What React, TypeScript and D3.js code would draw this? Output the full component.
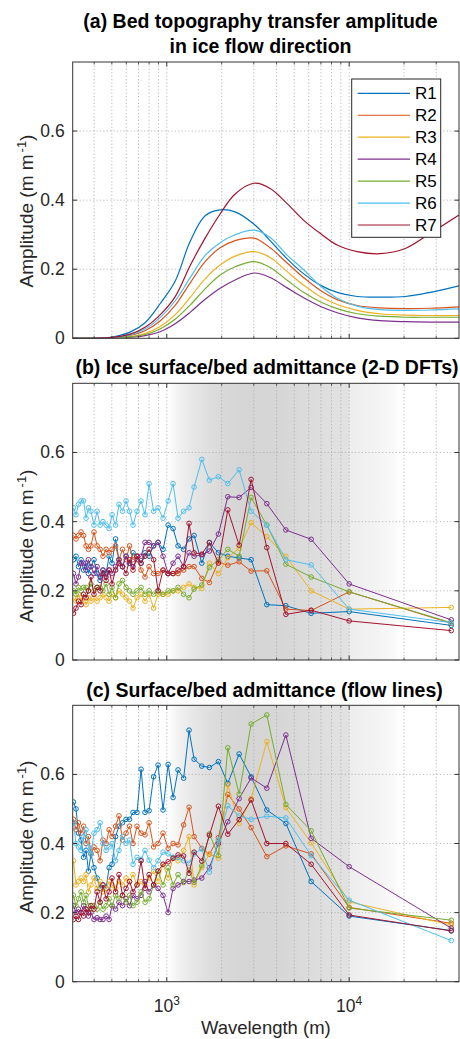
import React from "react";
import * as d3 from "d3";

const WIDTH = 460;
const HEIGHT = 1039;
const PLOT_LEFT = 72.7;
const PLOT_RIGHT = 459;
const FONT = "'Liberation Sans', Arial, Helvetica, sans-serif";

const SERIES_NAMES = ["R1", "R2", "R3", "R4", "R5", "R6", "R7"];
const SERIES_COLORS = ["#0072BD", "#D95319", "#EDB120", "#7E2F8E", "#77AC30", "#4DBEEE", "#A2142F"];

// (a) modelled bed-to-surface transfer amplitude, wavelength in metres
const WAVELENGTH_A = [305, 489, 629, 760, 919, 1111, 1342, 1623, 1961, 2370, 3012, 3687, 4570, 5593, 6932, 8596, 11066, 14791, 20290, 27820, 40000];
const A_R1 = [0, 0.003, 0.018, 0.045, 0.1, 0.165, 0.28, 0.355, 0.372, 0.366, 0.33, 0.283, 0.23, 0.188, 0.154, 0.133, 0.121, 0.119, 0.121, 0.133, 0.152];
const A_R2 = [0, 0.002, 0.008, 0.022, 0.05, 0.095, 0.16, 0.222, 0.262, 0.283, 0.29, 0.262, 0.218, 0.177, 0.139, 0.112, 0.095, 0.088, 0.086, 0.087, 0.091];
const A_R3 = [0, 0.001, 0.005, 0.014, 0.034, 0.068, 0.118, 0.172, 0.212, 0.238, 0.251, 0.234, 0.193, 0.155, 0.121, 0.098, 0.081, 0.071, 0.067, 0.066, 0.066];
const A_R4 = [0, 0.001, 0.003, 0.008, 0.019, 0.042, 0.075, 0.113, 0.145, 0.169, 0.189, 0.176, 0.146, 0.118, 0.093, 0.074, 0.059, 0.051, 0.048, 0.047, 0.047];
const A_R5 = [0, 0.001, 0.004, 0.011, 0.027, 0.055, 0.096, 0.143, 0.183, 0.207, 0.222, 0.205, 0.168, 0.134, 0.106, 0.086, 0.071, 0.064, 0.061, 0.061, 0.061];
const A_R6 = [0, 0.002, 0.01, 0.027, 0.06, 0.108, 0.175, 0.24, 0.277, 0.3, 0.313, 0.292, 0.241, 0.2, 0.152, 0.116, 0.093, 0.083, 0.081, 0.082, 0.085];
const A_R7 = [0, 0.002, 0.012, 0.032, 0.068, 0.12, 0.21, 0.29, 0.36, 0.418, 0.449, 0.434, 0.39, 0.343, 0.304, 0.27, 0.251, 0.245, 0.26, 0.304, 0.357];
const TRANSFER = [A_R1, A_R2, A_R3, A_R4, A_R5, A_R6, A_R7];

// (b), (c) observed admittance, wavelength in metres
const WAVELENGTH_BC = [308, 318, 328, 339, 350, 361, 372, 384, 399, 415, 431, 447, 465, 483, 501, 524, 547, 572, 598, 625, 653, 687, 723, 760, 800, 847, 896, 954, 1017, 1083, 1153, 1237, 1325, 1412, 1556, 1713, 1919, 2161, 2493, 2900, 3536, 4496, 6188, 10000, 36270];

const B_R1 = [0.29, 0.30, 0.27, 0.29, 0.26, 0.28, 0.25, 0.27, 0.29, 0.25, 0.23, 0.26, 0.25, 0.30, 0.28, 0.35, 0.29, 0.27, 0.30, 0.28, 0.31, 0.30, 0.28, 0.31, 0.30, 0.33, 0.34, 0.32, 0.39, 0.38, 0.33, 0.32, 0.35, 0.36, 0.28, 0.34, 0.31, 0.30, 0.295, 0.29, 0.16, 0.157, 0.135, 0.14, 0.10];
const B_R2 = [0.36, 0.35, 0.36, 0.37, 0.36, 0.33, 0.32, 0.33, 0.37, 0.33, 0.32, 0.30, 0.32, 0.31, 0.32, 0.33, 0.29, 0.32, 0.29, 0.33, 0.29, 0.30, 0.26, 0.24, 0.27, 0.25, 0.25, 0.26, 0.25, 0.25, 0.25, 0.26, 0.27, 0.27, 0.236, 0.224, 0.284, 0.274, 0.284, 0.257, 0.258, 0.147, 0.143, 0.197, 0.106];
const B_R3 = [0.18, 0.17, 0.19, 0.17, 0.18, 0.16, 0.18, 0.17, 0.18, 0.17, 0.18, 0.19, 0.18, 0.17, 0.19, 0.18, 0.20, 0.19, 0.18, 0.17, 0.15, 0.18, 0.19, 0.17, 0.19, 0.15, 0.19, 0.19, 0.19, 0.20, 0.20, 0.21, 0.22, 0.21, 0.207, 0.28, 0.25, 0.296, 0.323, 0.397, 0.357, 0.30, 0.20, 0.147, 0.152];
const B_R4 = [0.25, 0.22, 0.24, 0.28, 0.28, 0.26, 0.29, 0.27, 0.25, 0.27, 0.24, 0.26, 0.24, 0.26, 0.25, 0.27, 0.29, 0.27, 0.30, 0.28, 0.27, 0.29, 0.30, 0.34, 0.34, 0.33, 0.34, 0.30, 0.25, 0.28, 0.30, 0.27, 0.31, 0.30, 0.304, 0.315, 0.364, 0.472, 0.470, 0.499, 0.452, 0.376, 0.349, 0.22, 0.116];
const B_R5 = [0.20, 0.19, 0.21, 0.20, 0.21, 0.21, 0.20, 0.22, 0.20, 0.21, 0.21, 0.20, 0.22, 0.19, 0.21, 0.18, 0.22, 0.23, 0.21, 0.20, 0.19, 0.20, 0.21, 0.19, 0.20, 0.19, 0.20, 0.19, 0.20, 0.20, 0.21, 0.19, 0.18, 0.205, 0.217, 0.268, 0.29, 0.32, 0.30, 0.47, 0.39, 0.277, 0.24, 0.197, 0.108];
const B_R6 = [0.44, 0.42, 0.45, 0.46, 0.46, 0.41, 0.44, 0.43, 0.39, 0.43, 0.39, 0.40, 0.39, 0.38, 0.42, 0.39, 0.45, 0.43, 0.46, 0.43, 0.39, 0.43, 0.46, 0.42, 0.51, 0.43, 0.44, 0.41, 0.46, 0.51, 0.41, 0.43, 0.44, 0.50, 0.58, 0.52, 0.53, 0.51, 0.55, 0.43, 0.39, 0.29, 0.275, 0.147, 0.108];
const B_R7 = [0.135, 0.15, 0.17, 0.16, 0.19, 0.18, 0.20, 0.24, 0.19, 0.21, 0.20, 0.25, 0.23, 0.26, 0.22, 0.26, 0.28, 0.27, 0.25, 0.29, 0.26, 0.30, 0.28, 0.30, 0.32, 0.29, 0.20, 0.26, 0.25, 0.25, 0.26, 0.27, 0.395, 0.31, 0.306, 0.339, 0.28, 0.434, 0.332, 0.522, 0.325, 0.132, 0.144, 0.113, 0.085];
const DFT_ADMITTANCE = [B_R1, B_R2, B_R3, B_R4, B_R5, B_R6, B_R7];

const C_R1 = [0.52, 0.50, 0.43, 0.41, 0.36, 0.38, 0.32, 0.37, 0.33, 0.30, 0.27, 0.28, 0.27, 0.33, 0.34, 0.42, 0.45, 0.46, 0.47, 0.47, 0.49, 0.49, 0.615, 0.49, 0.495, 0.593, 0.627, 0.497, 0.629, 0.533, 0.613, 0.589, 0.728, 0.644, 0.624, 0.62, 0.637, 0.574, 0.659, 0.593, 0.497, 0.458, 0.29, 0.19, 0.148];
const C_R2 = [0.47, 0.44, 0.46, 0.43, 0.45, 0.40, 0.42, 0.37, 0.39, 0.38, 0.35, 0.41, 0.40, 0.44, 0.42, 0.45, 0.48, 0.41, 0.43, 0.45, 0.40, 0.45, 0.43, 0.425, 0.46, 0.39, 0.40, 0.43, 0.386, 0.40, 0.396, 0.454, 0.505, 0.42, 0.386, 0.369, 0.417, 0.542, 0.50, 0.446, 0.362, 0.393, 0.37, 0.215, 0.169];
const C_R3 = [0.35, 0.28, 0.29, 0.30, 0.29, 0.31, 0.26, 0.28, 0.30, 0.27, 0.29, 0.26, 0.27, 0.29, 0.28, 0.27, 0.29, 0.28, 0.30, 0.29, 0.31, 0.28, 0.29, 0.28, 0.30, 0.32, 0.29, 0.34, 0.30, 0.36, 0.35, 0.38, 0.42, 0.28, 0.33, 0.37, 0.357, 0.57, 0.458, 0.53, 0.695, 0.504, 0.402, 0.231, 0.164];
const C_R4 = [0.22, 0.20, 0.21, 0.20, 0.22, 0.21, 0.19, 0.20, 0.18, 0.185, 0.18, 0.18, 0.19, 0.18, 0.22, 0.21, 0.23, 0.22, 0.24, 0.22, 0.25, 0.24, 0.25, 0.29, 0.26, 0.28, 0.27, 0.25, 0.20, 0.27, 0.28, 0.29, 0.29, 0.294, 0.30, 0.33, 0.40, 0.463, 0.53, 0.59, 0.56, 0.714, 0.415, 0.333, 0.155];
const C_R5 = [0.25, 0.22, 0.24, 0.26, 0.23, 0.25, 0.22, 0.21, 0.22, 0.21, 0.23, 0.21, 0.22, 0.24, 0.22, 0.25, 0.24, 0.25, 0.23, 0.25, 0.22, 0.23, 0.26, 0.23, 0.24, 0.28, 0.32, 0.28, 0.33, 0.28, 0.31, 0.287, 0.323, 0.287, 0.336, 0.428, 0.365, 0.677, 0.543, 0.746, 0.772, 0.513, 0.437, 0.213, 0.178];
const C_R6 = [0.46, 0.40, 0.39, 0.38, 0.42, 0.44, 0.39, 0.37, 0.43, 0.44, 0.46, 0.40, 0.38, 0.39, 0.40, 0.35, 0.38, 0.42, 0.40, 0.41, 0.34, 0.36, 0.354, 0.38, 0.352, 0.33, 0.35, 0.375, 0.37, 0.36, 0.36, 0.35, 0.343, 0.37, 0.384, 0.317, 0.41, 0.509, 0.48, 0.47, 0.479, 0.474, 0.365, 0.236, 0.119];
const C_R7 = [0.18, 0.19, 0.18, 0.20, 0.19, 0.21, 0.20, 0.22, 0.21, 0.26, 0.23, 0.28, 0.24, 0.26, 0.30, 0.26, 0.31, 0.25, 0.27, 0.29, 0.26, 0.28, 0.35, 0.27, 0.31, 0.28, 0.32, 0.34, 0.347, 0.357, 0.367, 0.364, 0.314, 0.375, 0.349, 0.424, 0.508, 0.427, 0.469, 0.526, 0.40, 0.40, 0.34, 0.193, 0.147];
const FLOWLINE_ADMITTANCE = [C_R1, C_R2, C_R3, C_R4, C_R5, C_R6, C_R7];

// Background band behind the admittance panels
const SHADE_WAVELENGTH = [1000, 1200, 1500, 2000, 2600, 4000, 5500, 7500, 9900, 10100, 14000, 17500, 19000];
const SHADE_TONE = ["#ffffff", "#efefef", "#e3e3e3", "#d9d9d9", "#d5d5d5", "#d6d6d6", "#dadada", "#dfdfdf", "#e2e2e2", "#ededed", "#f3f3f3", "#f9f9f9", "#ffffff"];

const X_DOMAIN = [305, 40000];
const Y_DOMAIN = [0, 0.8];
const X_MAJOR = [1000, 10000];
const X_MINOR = [400, 500, 600, 700, 800, 900, 2000, 3000, 4000, 5000, 6000, 7000, 8000, 9000, 20000, 30000];
const Y_TICKS = [0, 0.2, 0.4, 0.6];
const Y_TICK_LABELS = ["0", "0.2", "0.4", "0.6"];
const X_TICK_EXPONENTS = ["3", "4"];

const x = d3.scaleLog().domain(X_DOMAIN).range([PLOT_LEFT, PLOT_RIGHT]);

type PanelProps = {
  id: string;
  top: number;
  bottom: number;
  titleLines: string[];
  titleX: number;
  titleBaselines: number[];
  labelCenter: number;
  shaded?: boolean;
  showXLabels?: boolean;
  children: (y: d3.ScaleLinear<number, number>) => React.ReactNode;
};

function Panel({ id, top, bottom, titleLines, titleX, titleBaselines, labelCenter, shaded, showXLabels, children }: PanelProps) {
  const y = d3.scaleLinear().domain(Y_DOMAIN).range([bottom, top]);
  const w = PLOT_RIGHT - PLOT_LEFT;
  const h = bottom - top;
  const gridStyle = { stroke: "#a8a8a8", strokeWidth: 0.8, strokeDasharray: "1.2 2.2" };
  const axisColor = "#333333";
  return (
    <g>
      <defs>
        <clipPath id={`clip-${id}`}>
          <rect x={PLOT_LEFT} y={top} width={w} height={h} />
        </clipPath>
      </defs>
      <rect x={PLOT_LEFT} y={top} width={w} height={h} fill={shaded ? "url(#shade)" : "#ffffff"} />
      {[...X_MINOR, ...X_MAJOR].map((v) => (
        <line key={`gx${v}`} x1={x(v)} x2={x(v)} y1={top} y2={bottom} {...gridStyle} />
      ))}
      {Y_TICKS.filter((v) => v > 0).map((v) => (
        <line key={`gy${v}`} x1={PLOT_LEFT} x2={PLOT_RIGHT} y1={y(v)} y2={y(v)} {...gridStyle} />
      ))}
      <g clipPath={`url(#clip-${id})`}>{children(y)}</g>
      <rect x={PLOT_LEFT} y={top} width={w} height={h} fill="none" stroke={axisColor} strokeWidth={1} />
      {X_MAJOR.map((v) => (
        <g key={`tM${v}`} stroke={axisColor} strokeWidth={1}>
          <line x1={x(v)} x2={x(v)} y1={bottom} y2={bottom - 4.5} />
          <line x1={x(v)} x2={x(v)} y1={top} y2={top + 4.5} />
        </g>
      ))}
      {X_MINOR.map((v) => (
        <g key={`tm${v}`} stroke={axisColor} strokeWidth={0.8}>
          <line x1={x(v)} x2={x(v)} y1={bottom} y2={bottom - 2.5} />
          <line x1={x(v)} x2={x(v)} y1={top} y2={top + 2.5} />
        </g>
      ))}
      {Y_TICKS.map((v, i) => (
        <g key={`ty${v}`}>
          <line x1={PLOT_LEFT} x2={PLOT_LEFT + 4.5} y1={y(v)} y2={y(v)} stroke={axisColor} />
          <line x1={PLOT_RIGHT} x2={PLOT_RIGHT - 4.5} y1={y(v)} y2={y(v)} stroke={axisColor} />
          <text x={PLOT_LEFT - 8} y={y(v) + 6} textAnchor="end" fontSize={17.5} fill="#262626">
            {Y_TICK_LABELS[i]}
          </text>
        </g>
      ))}
      {showXLabels &&
        X_MAJOR.map((v, i) => (
          <text key={`xl${v}`} x={x(v)} y={bottom + 30} textAnchor="middle" fontSize={17.5} fill="#262626">
            10
            <tspan dy={-7} fontSize={12}>
              {X_TICK_EXPONENTS[i]}
            </tspan>
          </text>
        ))}
      <text
        transform={`translate(32.5, ${labelCenter}) rotate(-90)`}
        textAnchor="middle"
        fontSize={19}
        fill="#262626"
      >
        Amplitude (m m
        <tspan dx={2} dy={-7} fontSize={13}>
          -1
        </tspan>
        <tspan dy={7}>)</tspan>
      </text>
      {titleLines.map((t, i) => (
        <text key={t} x={titleX} y={titleBaselines[i]} textAnchor="middle" fontSize={19.5} fontWeight="bold" fill="#000">
          {t}
        </text>
      ))}
    </g>
  );
}

function MarkedSeries({ values, color, y }: { values: number[]; color: string; y: d3.ScaleLinear<number, number> }) {
  const line = d3
    .line<number>()
    .x((_, i) => x(WAVELENGTH_BC[i]))
    .y((v) => y(v));
  return (
    <g>
      <path d={line(values) ?? ""} fill="none" stroke={color} strokeWidth={1} />
      {values.map((v, i) => (
        <circle key={i} cx={x(WAVELENGTH_BC[i])} cy={y(v)} r={2.3} fill="none" stroke={color} strokeWidth={1} />
      ))}
    </g>
  );
}

export default function App() {
  const shadeStart = x(SHADE_WAVELENGTH[0]);
  const shadeEnd = x(SHADE_WAVELENGTH[SHADE_WAVELENGTH.length - 1]);
  const legendTop = 79;
  const legendRowGap = 21.95;

  return (
    <svg
      width={WIDTH}
      height={HEIGHT}
      viewBox={`0 0 ${WIDTH} ${HEIGHT}`}
      style={{ position: "absolute", left: 0, top: 0, display: "block", background: "#ffffff" }}
      fontFamily={FONT}
    >
      <defs>
        <linearGradient id="shade" gradientUnits="userSpaceOnUse" x1={shadeStart} x2={shadeEnd} y1={0} y2={0}>
          {SHADE_WAVELENGTH.map((wl, i) => (
            <stop key={wl} offset={(x(wl) - shadeStart) / (shadeEnd - shadeStart)} stopColor={SHADE_TONE[i]} />
          ))}
        </linearGradient>
      </defs>
      <rect width={WIDTH} height={HEIGHT} fill="#ffffff" />

      <Panel
        id="a"
        top={62}
        bottom={338.3}
        titleLines={["(a) Bed topography transfer amplitude", "in ice flow direction"]}
        titleX={260.5}
        titleBaselines={[28, 53]}
        labelCenter={211}
      >
        {(y) => {
          const line = d3
            .line<number>()
            .x((_, i) => x(WAVELENGTH_A[i]))
            .y((v) => y(v))
            .curve(d3.curveCatmullRom.alpha(0.5));
          return TRANSFER.map((vals, s) => (
            <path key={s} d={line(vals) ?? ""} fill="none" stroke={SERIES_COLORS[s]} strokeWidth={1.2} />
          ));
        }}
      </Panel>

      <g>
        <rect x={351.7} y={legendTop} width={89} height={158.3} fill="#ffffff" stroke="#262626" strokeWidth={1} />
        {SERIES_NAMES.map((name, i) => {
          const cy = legendTop + 14.3 + i * legendRowGap;
          return (
            <g key={name}>
              <line x1={357.7} x2={410} y1={cy} y2={cy} stroke={SERIES_COLORS[i]} strokeWidth={1.2} />
              <text x={415} y={cy + 6} fontSize={17} fill="#000">
                {name}
              </text>
            </g>
          );
        })}
      </g>

      <Panel
        id="b"
        top={383.3}
        bottom={660}
        titleLines={["(b) Ice surface/bed admittance (2-D DFTs)"]}
        titleX={267}
        titleBaselines={[373.5]}
        labelCenter={546}
        shaded
      >
        {(y) =>
          DFT_ADMITTANCE.map((vals, s) => <MarkedSeries key={s} values={vals} color={SERIES_COLORS[s]} y={y} />)
        }
      </Panel>

      <Panel
        id="c"
        top={705.3}
        bottom={981.7}
        titleLines={["(c) Surface/bed admittance (flow lines)"]}
        titleX={264.5}
        titleBaselines={[696.5]}
        labelCenter={837}
        shaded
        showXLabels
      >
        {(y) =>
          FLOWLINE_ADMITTANCE.map((vals, s) => <MarkedSeries key={s} values={vals} color={SERIES_COLORS[s]} y={y} />)
        }
      </Panel>

      <text x={(PLOT_LEFT + PLOT_RIGHT) / 2} y={1033.5} textAnchor="middle" fontSize={18.5} fill="#262626">
        Wavelength (m)
      </text>
    </svg>
  );
}
